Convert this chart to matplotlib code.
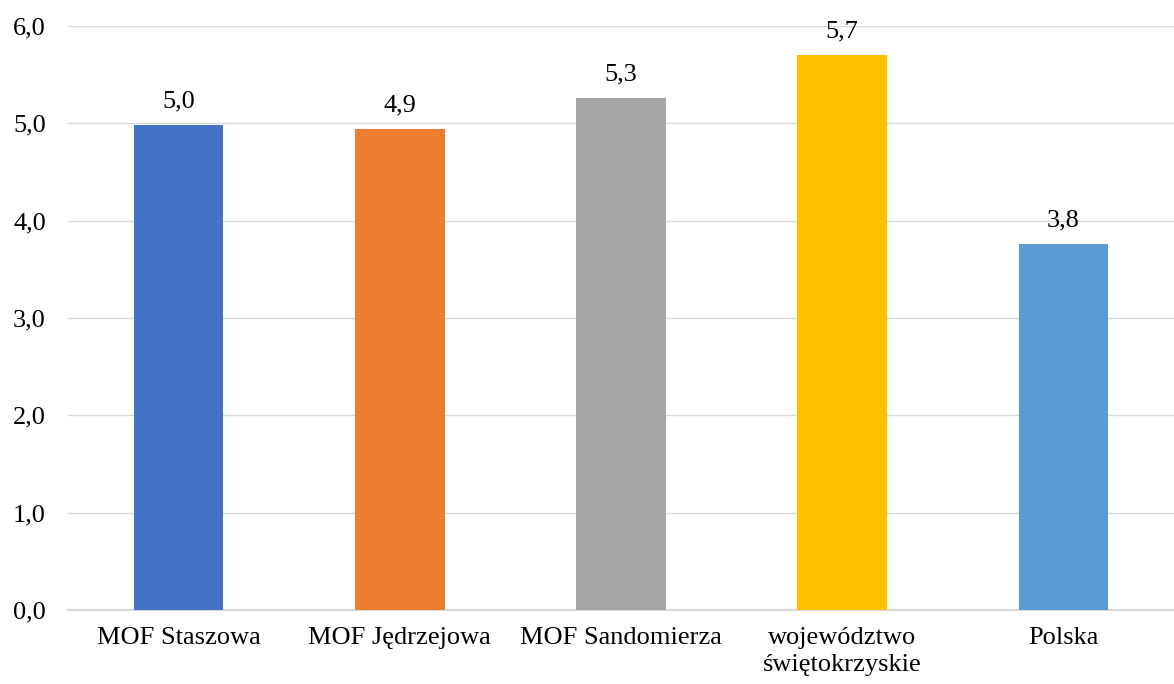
import matplotlib
matplotlib.use('Agg')
import matplotlib.pyplot as plt

kategorie = ['MOF Staszowa', 'MOF Jędrzejowa', 'MOF Sandomierza',
             'województwo\nświętokrzyskie', 'Polska']
wartosci = [4.98, 4.94, 5.26, 5.70, 3.76]
kolory = ['#4472C4', '#ED7D31', '#A5A5A5', '#FFC000', '#5B9BD5']

plt.rcParams['font.family'] = ['Liberation Serif', 'DejaVu Serif']

fig = plt.figure(figsize=(11.74, 6.84), dpi=100)
# obszar wykresu: od x=68 px do prawej krawędzi, oś 0 na y=610, 6 na y=26
ax = fig.add_axes([68 / 1174, 1 - 610 / 684, 1 - 68 / 1174, (610 - 26) / 684])

x = range(len(kategorie))
ax.bar(x, wartosci, width=0.405, color=kolory, zorder=3)

for xi, v in zip(x, wartosci):
    ax.text(xi, v + 0.13, f'{v:.1f}'.replace('.', ','), ha='center', va='bottom',
            fontsize=19, color='#000000')

ax.set_xlim(-0.5, 4.5)
ax.set_ylim(0, 6)
ax.set_yticks([0, 1, 2, 3, 4, 5, 6])
ax.set_yticklabels([f'{t:.1f}'.replace('.', ',') for t in range(7)], fontsize=19, color='#000000')
ax.set_xticks(list(x))
ax.set_xticklabels(kategorie, fontsize=19, color='#000000', va='top', linespacing=1.3)
ax.tick_params(axis='both', length=0)
ax.tick_params(axis='x', pad=12)
ax.tick_params(axis='y', pad=16)

ax.grid(axis='y', color='#D9D9D9', linewidth=1, zorder=0)
for s in ['top', 'right', 'left']:
    ax.spines[s].set_visible(False)
ax.spines['bottom'].set_color('#D9D9D9')
ax.spines['bottom'].set_linewidth(1.5)

plt.savefig('out.png', dpi=100)
